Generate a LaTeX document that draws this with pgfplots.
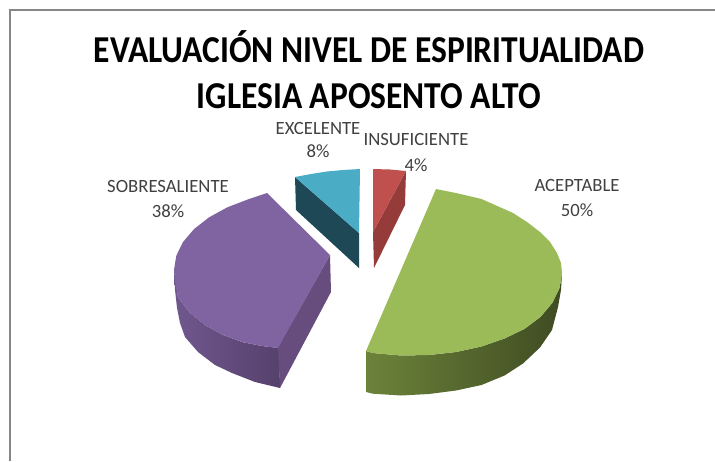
\documentclass[border=0pt]{standalone}
\usepackage{pgfplots}
\pgfplotsset{compat=1.18}
\usepackage{fontspec}
\setmainfont{Carlito}
\definecolor{gtop}{RGB}{155,187,89}
\definecolor{ptop}{RGB}{128,100,162}
\definecolor{atop}{RGB}{75,172,198}
\definecolor{rtop}{RGB}{192,80,77}
\definecolor{adark}{RGB}{31,72,86}
\definecolor{rdark}{RGB}{149,60,58}
\definecolor{pface}{RGB}{102,77,126}
\definecolor{lab}{RGB}{64,64,64}
\begin{document}
\begin{tikzpicture}
\begin{axis}[
  scale only axis, width=715pt, height=461pt,
  xmin=0, xmax=715, ymin=0, ymax=461, y dir=reverse,
  axis lines=none, ticks=none, clip=true]
\addplot[fill=white, draw=none] coordinates {(0,0) (715,0) (715,461) (0,461)} --cycle;
% frame
\addplot[draw={rgb,255:red,134;green,134;blue,134}, line width=2pt] coordinates {(10,461) (10,10) (715,10)};
% aqua
\addplot[fill=adark, draw=none] coordinates {(295,177) (359,233) (359,268) (296,210)} --cycle;
\addplot[fill=atop, draw=none] coordinates {(295,177) (311,174) (327,171.5) (343,170) (360,169) (359,233)} --cycle;
% red
\addplot[fill=rdark, draw=none] coordinates {(406,171) (405,205) (374,268) (373,232)} --cycle;
\addplot[fill=rtop, draw=none] coordinates {(373,169) (390,169.5) (406,171) (373,232)} --cycle;
% purple
\addplot[draw=none, left color={rgb,255:red,112;green,87;blue,143}, middle color={rgb,255:red,102;green,77;blue,127}, right color={rgb,255:red,86;green,65;blue,108}] coordinates {
 (174,270) (178,297) (190,313) (205,325) (223,335) (242,342) (262,346) (279,348)
 (280,388) (255,382) (232,373) (215,365) (198,352) (185,337) (180,323) (177,308) (175,290)} --cycle;
\addplot[fill=pface, draw=none] coordinates {(278,347) (330,255) (331,292) (280,388)} --cycle;
\addplot[fill=ptop, draw=none] coordinates {
 (267,193) (249,199) (227.6,207.2) (209.1,217.3) (194.1,229) (183,242) (176.3,255.7) (174,270)
 (175,282) (178,297) (190,313) (205,325) (223,335) (242,342) (262,346) (278,348) (330,255)} --cycle;
% green
\addplot[draw=none, left color={rgb,255:red,108;green,131;blue,58}, middle color={rgb,255:red,65;green,78;blue,35}, right color={rgb,255:red,63;green,75;blue,34}] coordinates {
 (562,273) (559.6,288) (552.3,303) (540.4,317) (524.3,329) (504.5,338.5) (481.5,346.5) (456,352) (429,355) (401,355.5) (373,353) (366,351)
 (366,392) (373,393.7) (401,395.5) (429,394) (456,390.5) (481.5,385) (504.5,375.5) (523,363.5) (540,347.5) (552,330) (558,307) (561,290)} --cycle;
\addplot[fill=gtop, draw=none] coordinates {
 (436,189) (456,193) (481.5,199) (513,213) (527,222) (540,232) (550,242) (557,253) (561,263) (562,273)
 (559.6,288) (552.3,303) (540.4,317) (524.3,329) (504.5,338.5) (481.5,346.5) (456,352) (429,355) (401,355.5) (373,353) (366,351)} --cycle;
% title
\node[font=\bfseries\fontsize{38}{38}\selectfont, black, anchor=base] at (axis cs:369,62.5) {\scalebox{0.881}[1]{EVALUACIÓN NIVEL DE ESPIRITUALIDAD}};
\node[font=\bfseries\fontsize{38}{38}\selectfont, black, anchor=base] at (axis cs:369,108) {\scalebox{0.881}[1]{IGLESIA APOSENTO ALTO}};
% labels
\node[font=\fontsize{18.7}{18.7}\selectfont, text=lab] at (axis cs:168,186) {SOBRESALIENTE};
\node[font=\fontsize{18.7}{18.7}\selectfont, text=lab] at (axis cs:168,211) {38\%};
\node[font=\fontsize{18.7}{18.7}\selectfont, text=lab] at (axis cs:318,128) {EXCELENTE};
\node[font=\fontsize{18.7}{18.7}\selectfont, text=lab] at (axis cs:318,151) {8\%};
\node[font=\fontsize{18.7}{18.7}\selectfont, text=lab] at (axis cs:416,139) {INSUFICIENTE};
\node[font=\fontsize{18.7}{18.7}\selectfont, text=lab] at (axis cs:416,165) {4\%};
\node[font=\fontsize{18.7}{18.7}\selectfont, text=lab] at (axis cs:577,185) {ACEPTABLE};
\node[font=\fontsize{18.7}{18.7}\selectfont, text=lab] at (axis cs:577,210) {50\%};
\end{axis}
\end{tikzpicture}
\end{document}
